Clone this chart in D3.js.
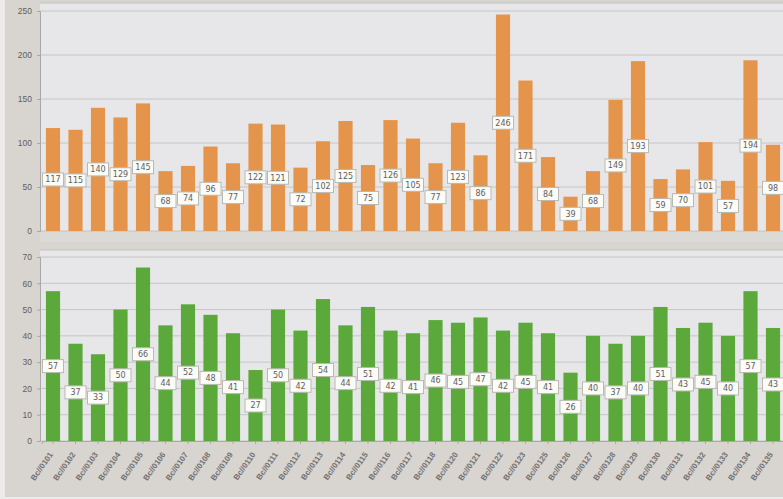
<!DOCTYPE html>
<html><head><meta charset="utf-8">
<script src="https://cdn.jsdelivr.net/npm/d3@7"></script>
<style>
html,body{margin:0;padding:0;background:#ecebea;}
svg{display:block;font-family:"DejaVu Sans",sans-serif;}
</style></head>
<body>
<svg id="c" width="783" height="499"></svg>
<script>
const categories = ["Bc//0101","Bc//0102","Bc//0103","Bc//0104","Bc//0105","Bc//0106","Bc//0107","Bc//0108","Bc//0109","Bc//0110","Bc//0111","Bc//0112","Bc//0113","Bc//0114","Bc//0115","Bc//0116","Bc//0117","Bc//0118","Bc//0120","Bc//0121","Bc//0122","Bc//0123","Bc//0125","Bc//0126","Bc//0127","Bc//0128","Bc//0129","Bc//0130","Bc//0131","Bc//0132","Bc//0133","Bc//0134","Bc//0135"];
const topValues = [117,115,140,129,145,68,74,96,77,122,121,72,102,125,75,126,105,77,123,86,246,171,84,39,68,149,193,59,70,101,57,194,98];
const bottomValues = [57,37,33,50,66,44,52,48,41,27,50,42,54,44,51,42,41,46,45,47,42,45,41,26,40,37,40,51,43,45,40,57,43];
const topTicks = [0,50,100,150,200,250];
const bottomTicks = [0,10,20,30,40,50,60,70];

const svg = d3.select("#c");
svg.append("rect").attr("x",5).attr("y",0).attr("width",778).attr("height",497).attr("fill","#d8d4d0");

const x = d3.scaleBand().domain(categories).range([41.75, 784.25]).paddingInner(0.37).paddingOuter(0.185);

function panel(vals, ticks, yTop, yBottom, maxV, color, plotTop) {
  const y = d3.scaleLinear().domain([0, maxV]).range([yBottom, yTop]);
  const g = svg.append("g");
  g.append("rect").attr("x",40).attr("y",plotTop).attr("width",743).attr("height",yBottom-plotTop)
    .attr("fill","#e7e7ea");
  g.append("line").attr("x1",40).attr("x2",783).attr("y1",plotTop).attr("y2",plotTop).attr("stroke","#c4c4c4");
  g.selectAll(".grid").data(ticks).join("line")
    .attr("x1",40).attr("x2",783).attr("y1",d=>y(d)).attr("y2",d=>y(d))
    .attr("stroke","#c6c6c8").attr("stroke-width",1);
  const ax = g.append("g").attr("transform","translate(40,0)")
    .call(d3.axisLeft(y).tickValues(ticks).tickSize(3).tickPadding(5));
  ax.select(".domain").attr("stroke","#a8a8a8");
  ax.selectAll(".tick line").attr("stroke","#a8a8a8");
  ax.selectAll("text").attr("fill","#606060").style("font-size","8.5px");
  g.selectAll(".bar").data(vals).join("rect")
    .attr("x",(d,i)=>x(categories[i])).attr("width",x.bandwidth())
    .attr("y",d=>y(d)).attr("height",d=>yBottom-y(d)).attr("fill",color);
  const lb = g.selectAll(".lbl").data(vals).join("g")
    .attr("transform",(d,i)=>`translate(${x(categories[i])+x.bandwidth()/2},${y(d/2)})`);
  lb.append("rect").attr("x",-10.5).attr("y",-6.5).attr("width",21).attr("height",13)
    .attr("fill","#fbfbf8").attr("stroke","#b9b9b0").attr("stroke-width",1);
  lb.append("text").attr("text-anchor","middle").attr("dy","0.35em")
    .attr("fill","#606060").style("font-size","8px").text(d=>d);
  return y;
}

panel(topValues, topTicks, 11, 231, 250, "#e4944b", 3);
svg.append("rect").attr("x",40).attr("y",232).attr("width",743).attr("height",10).attr("fill","#dcdad6");
panel(bottomValues, bottomTicks, 257, 441, 70, "#5ba83b", 250);

const xa = svg.append("g").attr("transform","translate(0,441)")
  .call(d3.axisBottom(x).tickSize(3).tickPadding(0));
xa.select(".domain").attr("stroke","#a8a8a8");
xa.selectAll(".tick line").attr("stroke","#a8a8a8");
xa.selectAll("text").attr("fill","#707070").style("font-size","8px").style("font-weight","bold")
  .attr("text-anchor","end").attr("x",0).attr("y",0).attr("dx",0).attr("dy","0.35em")
  .attr("transform","translate(-2,12) rotate(-55)");
</script>
</body></html>
